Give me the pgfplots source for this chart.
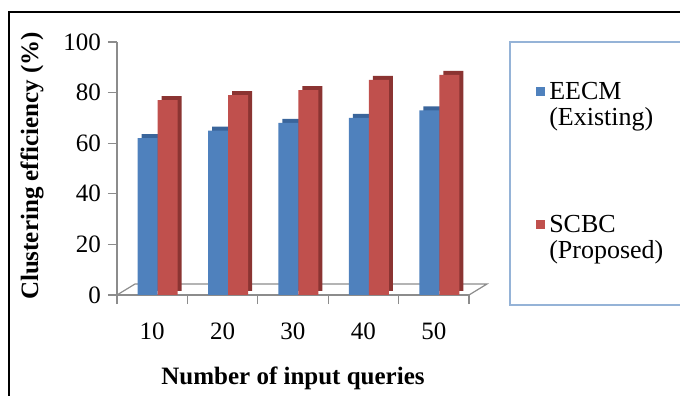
\documentclass[border=0pt]{standalone}
\usepackage{pgfplots}
\pgfplotsset{compat=1.18}
\usepackage{fontspec}
\setmainfont{Liberation Serif}
\definecolor{eblue}{HTML}{4F81BD}
\definecolor{ered}{HTML}{C0504D}
\definecolor{eblueD}{HTML}{3A659B}
\definecolor{eredD}{HTML}{8B3432}
\definecolor{axgray}{HTML}{8C8C8C}
\definecolor{legblue}{HTML}{95B3D7}
\pgfplotsset{sq legend/.style={legend image code/.code={\fill[##1] (0pt,1.8pt) rectangle (4.5pt,6.3pt);}}}
\begin{document}
\begin{tikzpicture}
\begin{axis}[
  at={(0pt,0pt)}, anchor=south west,
  scale only axis, width=176pt, height=126.5pt,
  xmin=-0.5, xmax=4.5, ymin=0, ymax=100,
  axis x line*=bottom, axis y line*=left,
  axis line style={axgray, line width=0.6pt},
  ytick={0,20,...,100},
  xtick={-0.5,0.5,...,4.5}, xticklabels={},
  extra x ticks={0,1,2,3,4}, extra x tick labels={10,20,30,40,50},
  extra x tick style={major tick length=0pt, tick label style={yshift=-10.5pt}},
  tick align=outside, major tick length=4.5pt,
  tick style={axgray, line width=0.6pt},
  tick label style={font=\fontsize{12.5}{13}\selectfont, text=black},
  /pgf/number format/assume math mode=true,
  xlabel={Number of input queries}, ylabel={Clustering efficiency (\%)},
  every axis x label/.style={at={(axis description cs:0.5,-0.328)}, anchor=center,
    font=\fontsize{12.5}{14}\selectfont\bfseries},
  every axis y label/.style={at={(axis description cs:-0.2415,0.51)}, anchor=center, rotate=90,
    font=\fontsize{12.5}{14}\selectfont\bfseries},
  ybar, bar width=10pt,
  enlargelimits=false, clip=false,
  legend style={at={(axis description cs:1.19,0.862)}, anchor=north west, draw=none, fill=none,
    inner sep=0pt, row sep=52pt, font=\fontsize{13}{13}\selectfont, cells={anchor=base west}},
]
\draw[axgray, line width=0.6pt] (axis cs:-0.5,0) -- ([xshift=9pt,yshift=5.5pt]axis cs:-0.5,0)
  -- ([xshift=9pt,yshift=5.5pt]axis cs:4.5,0) -- (axis cs:4.5,0);
\addplot[draw=none, fill=eblueD, bar shift=-0.25pt, yshift=2pt, forget plot]
  coordinates {(0,62) (1,65) (2,68) (3,70) (4,73)};
\addplot[draw=none, fill=eblue, bar shift=-2.25pt, sq legend]
  coordinates {(0,62) (1,65) (2,68) (3,70) (4,73)};
\addlegendentry{\begin{tabular}[t]{@{}l@{}}EECM\\(Existing)\end{tabular}}
\addplot[draw=none, fill=eredD, bar shift=9.75pt, yshift=2pt, forget plot]
  coordinates {(0,77) (1,79) (2,81) (3,85) (4,87)};
\addplot[draw=none, fill=ered, bar shift=7.75pt, sq legend]
  coordinates {(0,77) (1,79) (2,81) (3,85) (4,87)};
\addlegendentry{\begin{tabular}[t]{@{}l@{}}SCBC\\(Proposed)\end{tabular}}
\end{axis}
\draw[line width=1pt] (-54pt,-60pt) -- (-54pt,141.5pt) -- (300pt,141.5pt);
\draw[legblue, line width=0.7pt] (300pt,-5pt) -- (196.5pt,-5pt) -- (196.5pt,126.5pt) -- (300pt,126.5pt);
\pgfresetboundingbox
\useasboundingbox (-58.5pt,-50.5pt) rectangle (281.5pt,147.5pt);
\end{tikzpicture}
\end{document}
